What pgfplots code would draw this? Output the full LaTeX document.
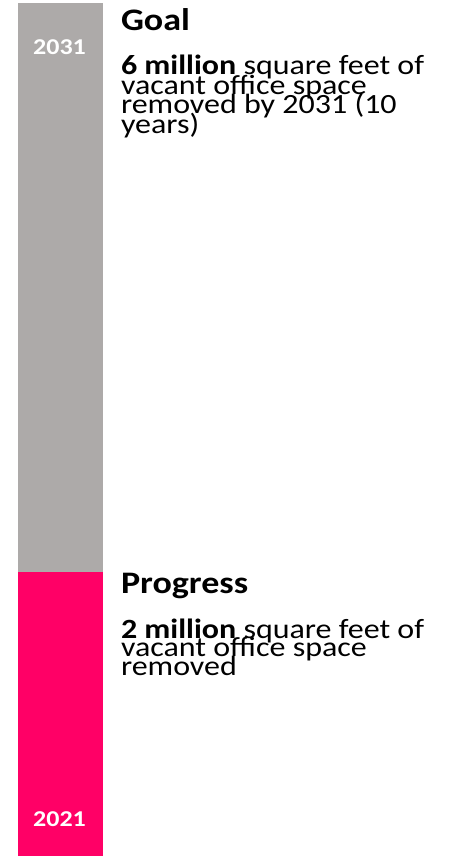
\documentclass[border=0pt]{standalone}
\usepackage{graphicx}
\usepackage{pgfplots}
\pgfplotsset{compat=1.18}
\usepackage{fontspec}
\setmainfont{Carlito}

\definecolor{goalgray}{HTML}{ADAAA9}
\definecolor{progpink}{HTML}{FF0066}

% Carlito is taller than the font of the original: squash it a little
\newcommand{\squash}[1]{\scalebox{1}[0.87]{#1}}

\begin{document}
\begin{tikzpicture}[every node/.style={inner sep=0pt, outer sep=0pt}]
    \begin{axis}[
        width        = 449pt,
        height       = 856pt,
        scale only axis,
        xmin         = 0,
        xmax         = 449,
        ymin         = 0,
        ymax         = 6.0211,
        hide axis,
        clip         = false,
        ybar stacked,
        bar width    = 85]

        % progress so far, then what is left of the goal
        \addplot[fill=progpink, draw=none] coordinates {(60.5,2)};
        \addplot[fill=goalgray, draw=none] coordinates {(60.5,4)};

        \path (rel axis cs:0,0) rectangle (rel axis cs:1,1);

        \coordinate (top)    at (axis cs:59.5,5.641);
        \coordinate (bottom) at (axis cs:59.5,0.2062);
        \coordinate (goal)   at (axis cs:121,5.8066);
        \coordinate (prog)   at (axis cs:121,1.8475);
    \end{axis}

    % bar labels, on top of the bars
    \node[anchor=base, text=white, font=\fontsize{26}{26}\selectfont\bfseries]
        at (top) {\squash{2031}};
    \node[anchor=base, text=white, font=\fontsize{26}{26}\selectfont\bfseries]
        at (bottom) {\squash{2021}};

    % goal text
    \node[anchor=base west, font=\fontsize{36}{36}\selectfont\bfseries]
        at (goal) {\squash{Goal}};
    \begin{scope}[every node/.append style={anchor=base west, font=\fontsize{32}{32}\selectfont}]
        \node at ([yshift=-44.5pt]goal) {\squash{\textbf{6 million} square feet of}};
        \node at ([yshift=-64pt]goal)   {\squash{vacant office space}};
        \node at ([yshift=-83.5pt]goal) {\squash{removed by 2031 (10}};
        \node at ([yshift=-103pt]goal)  {\squash{years)}};
    \end{scope}

    % progress text
    \node[anchor=base west, font=\fontsize{36}{36}\selectfont\bfseries]
        at (prog) {\squash{Progress}};
    \begin{scope}[every node/.append style={anchor=base west, font=\fontsize{32}{32}\selectfont}]
        \node at ([yshift=-45pt]prog)   {\squash{\textbf{2 million} square feet of}};
        \node at ([yshift=-63.5pt]prog) {\squash{vacant office space}};
        \node at ([yshift=-82pt]prog)   {\squash{removed}};
    \end{scope}
\end{tikzpicture}
\end{document}
